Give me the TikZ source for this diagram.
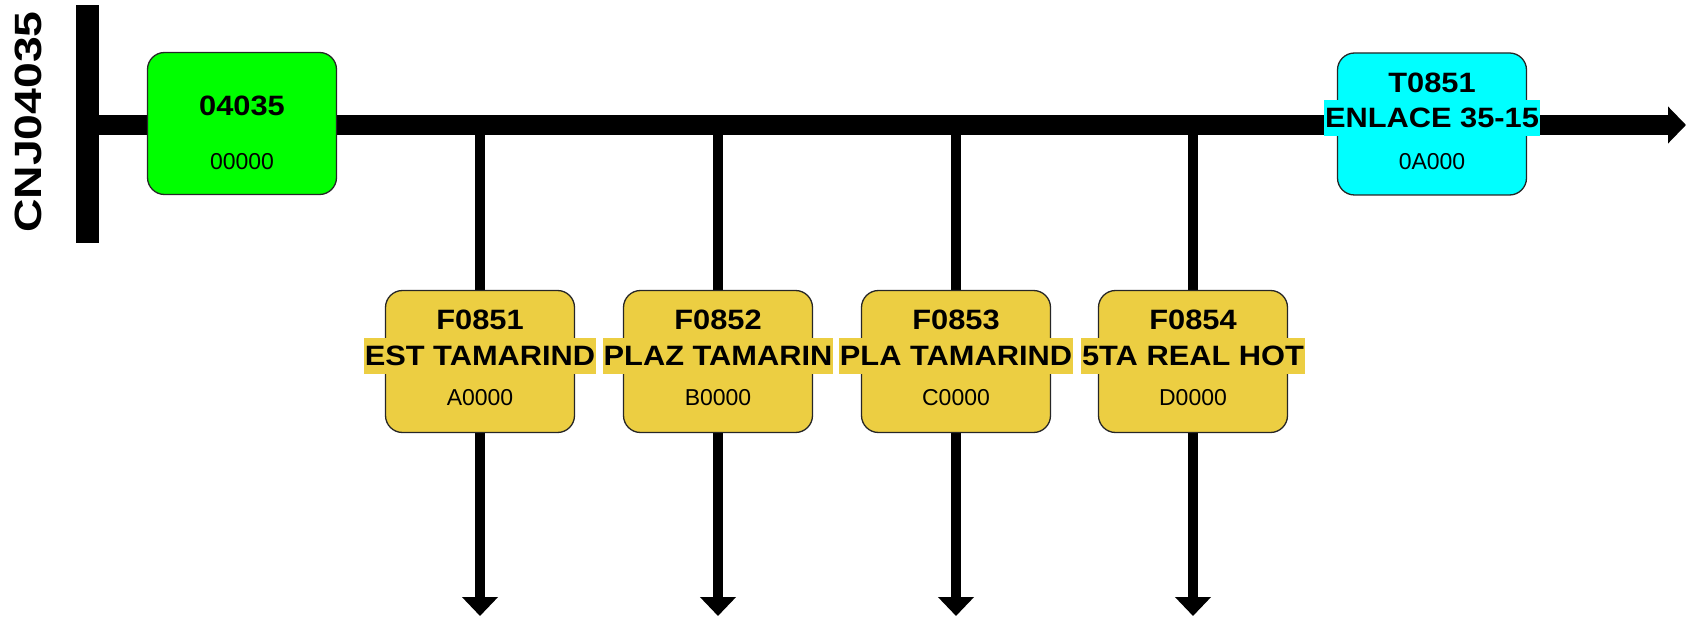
\documentclass[tikz,border=0pt]{standalone}
\usepackage{fontspec}
\setmainfont{Liberation Sans}
\newfontfamily\lbl[FakeStretch=1.1]{Liberation Sans}
\newfontfamily\cnjf[FakeStretch=1.22]{Liberation Sans}
\usetikzlibrary{arrows.meta}
\definecolor{ygold}{RGB}{236,206,66}
\definecolor{cyanb}{RGB}{0,255,255}
\definecolor{greenb}{RGB}{0,255,0}
\pgfdeclarelayer{bg}
\pgfsetlayers{bg,main}
\tikzset{
  box/.style={draw=black!85, line width=1.3pt, rounded corners=17pt, minimum width=189pt, minimum height=142pt, inner sep=0pt},
  ttl/.style={font=\lbl\bfseries\fontsize{28}{30}\selectfont, inner sep=0pt},
  band/.style={font=\lbl\bfseries\fontsize{28}{30}\selectfont, inner xsep=1pt, inner ysep=0pt, minimum height=36pt},
  sub/.style={font=\fontsize{23}{25}\selectfont, inner sep=0pt},
  mainln/.style={line width=20pt, -{Triangle[width=36pt,length=18pt]}},
  stem/.style={line width=10pt},
  stemarr/.style={line width=10pt, -{Triangle[width=35pt,length=19pt]}},
}
\begin{document}
\begin{tikzpicture}[x=1pt,y=-1pt]
\useasboundingbox (0,0) rectangle (1686,620);
% vertical bar and label
\node[fill=black, minimum width=23pt, minimum height=238pt, inner sep=0pt] (bar) at (87.5,124) {};
\node[rotate=90, font=\cnjf\bfseries\fontsize{38}{40}\selectfont, inner sep=0pt] (cnj) at (28.5,122) {CNJ04035};
\coordinate (mainend) at (1686,125);
% boxes
\node[box, fill=greenb] (g) at (242,123.5) {};
\node[box, fill=cyanb] (c) at (1432,124) {};
\foreach \i/\x in {1/480,2/718,3/956,4/1193}{
  \node[box, fill=ygold] (b\i) at (\x,361.5) {};
  \coordinate (t\i) at (\x,616);
}
\begin{pgfonlayer}{bg}
\draw[mainln] (bar.center |- mainend) -- (mainend);
\foreach \i in {1,2,3,4}{
  \draw[stem] (b\i.north |- mainend) -- (b\i.north);
  \draw[stemarr] (b\i.south) -- (t\i);
}
\end{pgfonlayer}
% green box text
\node[ttl] (gt) at (242,106) {04035};
\node[sub] (gs) at (242,162) {00000};
% cyan box text
\node[ttl] (ct) at (1432,83) {T0851};
\node[band, fill=cyanb] (cb) at (1432,118) {ENLACE 35-15};
\node[sub] (cs) at (1432,162) {0A000};
% yellow boxes text
\node[ttl] (y1t) at (480,320) {F0851};
\node[band, fill=ygold] (y1b) at (480,356) {EST TAMARIND};
\node[sub] (y1s) at (480,398) {A0000};
\node[ttl] (y2t) at (718,320) {F0852};
\node[band, fill=ygold] (y2b) at (718,356) {PLAZ TAMARIN};
\node[sub] (y2s) at (718,398) {B0000};
\node[ttl] (y3t) at (956,320) {F0853};
\node[band, fill=ygold] (y3b) at (956,356) {PLA TAMARIND};
\node[sub] (y3s) at (956,398) {C0000};
\node[ttl] (y4t) at (1193,320) {F0854};
\node[band, fill=ygold] (y4b) at (1193,356) {5TA REAL HOT};
\node[sub] (y4s) at (1193,398) {D0000};
\end{tikzpicture}
\end{document}
